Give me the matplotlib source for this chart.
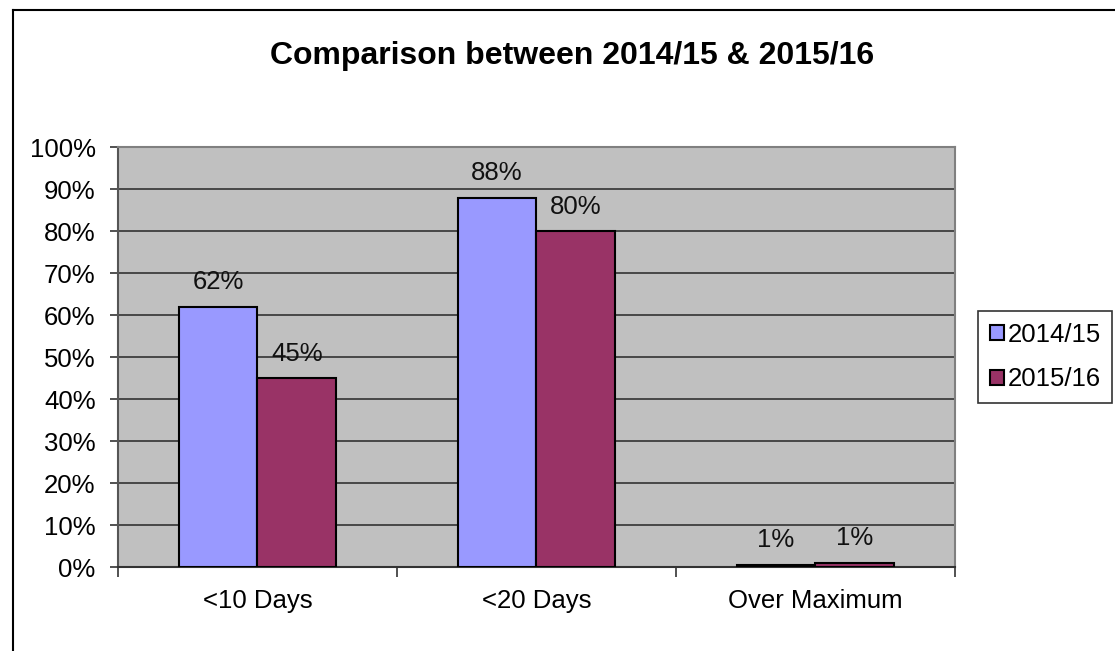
import numpy as np
import matplotlib.pyplot as plt
from matplotlib.ticker import FixedLocator

plt.rcParams['font.family'] = ['Liberation Sans', 'DejaVu Sans']

# --- data ---
categories = ['<10 Days', '<20 Days', 'Over Maximum']
series_names = ['2014/15', '2015/16']
vals_1415 = [62, 88, 0.6]
vals_1516 = [45, 80, 1.0]
labels_1415 = ['62%', '88%', '1%']
labels_1516 = ['45%', '80%', '1%']
colors = ['#9999FF', '#993366']

fig = plt.figure(figsize=(11.15, 6.51), dpi=100)
ax = fig.add_axes([0.1058, 0.129, 0.7507, 0.645])
ax.set_facecolor('#C0C0C0')

x = np.arange(len(categories))
w = 0.283
b1 = ax.bar(x - w / 2, vals_1415, w, color=colors[0], edgecolor='black', linewidth=1.5,
            label=series_names[0], zorder=3)
b2 = ax.bar(x + w / 2, vals_1516, w, color=colors[1], edgecolor='black', linewidth=1.5,
            label=series_names[1], zorder=3)

for bars, labs in [(b1, labels_1415), (b2, labels_1516)]:
    for r, lab in zip(bars, labs):
        ax.annotate(lab, (r.get_x() + r.get_width() / 2, r.get_height()),
                    xytext=(0, 9), textcoords='offset points',
                    ha='center', va='bottom', fontsize=18.5, color='#111111')

ax.set_xlim(-0.5, 2.5)
ax.set_ylim(0, 100)
ax.set_yticks(np.arange(0, 101, 10))
ax.set_yticklabels([f'{v}%' for v in range(0, 101, 10)], fontsize=18.5)
ax.yaxis.grid(True, color='#333333', linewidth=1.2, zorder=1)

ax.set_xticks(x)
ax.set_xticklabels(categories, fontsize=18.5)
ax.tick_params(axis='x', which='major', length=0, pad=16)
ax.xaxis.set_minor_locator(FixedLocator([-0.5, 0.5, 1.5, 2.5]))
ax.tick_params(axis='x', which='minor', length=7, width=1.2, color='#333333')
ax.tick_params(axis='y', length=6, width=1.2, color='#333333', pad=10)

for s in ['top', 'right']:
    ax.spines[s].set_color('#808080')
    ax.spines[s].set_linewidth(1.5)
ax.spines['left'].set_color('#555555')
ax.spines['bottom'].set_color('#333333')
ax.spines['left'].set_linewidth(1.5)
ax.spines['bottom'].set_linewidth(1.5)

fig.text(0.513, 0.914, 'Comparison between 2014/15 & 2015/16', ha='center', va='center',
         fontsize=23, fontweight='bold')

leg = ax.legend(loc='center left', bbox_to_anchor=(1.0275, 0.5), fontsize=18.5,
                frameon=True, fancybox=False, edgecolor='black', handlelength=0.55,
                handleheight=0.55, handletextpad=0.15, borderpad=0.45, labelspacing=0.8,
                borderaxespad=0)
leg.get_frame().set_linewidth(1.2)

# outer chart border (left and top)
fig.add_artist(plt.Line2D([13 / 1115, 13 / 1115], [0, 1 - 10 / 651], color='black', lw=1.5,
                          transform=fig.transFigure))
fig.add_artist(plt.Line2D([13 / 1115, 1], [1 - 10 / 651, 1 - 10 / 651], color='black', lw=1.5,
                          transform=fig.transFigure))

fig.savefig('out.png', dpi=100)
